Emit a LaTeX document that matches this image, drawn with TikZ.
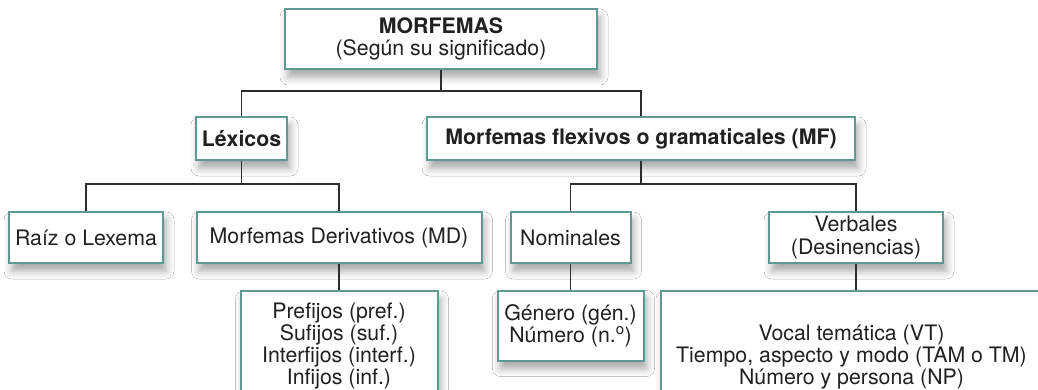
\documentclass[tikz,border=0pt]{standalone}
\usepackage{fontspec}
\setmainfont{TeX Gyre Heros}
\usepackage{tikz}
\usetikzlibrary{shadows.blur}

\definecolor{borde}{RGB}{94,154,148}
\definecolor{linea}{RGB}{45,45,45}
\definecolor{texto}{RGB}{35,31,32}

\begin{document}
\begin{tikzpicture}[x=1pt, y=-1pt, thick]
        \tikzstyle{every node}=[font=\fontsize{21.3pt}{22.3pt}\selectfont, text=texto]
        \tikzstyle{caja}=[draw=borde, line width=2pt, fill=white, inner sep=0pt, align=center,
          blur shadow={shadow xshift=3pt, shadow yshift=-8pt, shadow blur radius=8pt, shadow opacity=35}]
        \tikzstyle{rama}=[draw=linea, line width=1.3pt]
        \useasboundingbox (0,0) rectangle (1038,390);
        \clip (0,0) rectangle (1038,390);
        \fill[white] (0,0) rectangle (1038,390);
        % nivel 1
        \node [caja, minimum width=312pt, minimum height=60pt] (morf) at (441, 39) {\textbf{MORFEMAS}\\(Según su significado)};
        % nivel 2
        \node [caja, minimum width=91pt, minimum height=43pt] (lex) at (241.5, 138.5) {\textbf{Léxicos}};
        \node [caja, minimum width=428pt, minimum height=43pt] (mf) at (641, 138.5) {\textbf{Morfemas flexivos o gramaticales (MF)}};
        % nivel 3
        \node [caja, minimum width=154pt, minimum height=51pt] (raiz) at (86, 237.5) {Raíz o Lexema};
        \node [caja, minimum width=285pt, minimum height=51pt] (md) at (339, 237.5) {Morfemas Derivativos (MD)};
        \node [caja, minimum width=120pt, minimum height=51pt] (nom) at (570.5, 237.5) {Nominales};
        \node [caja, minimum width=174pt, minimum height=51pt] (verb) at (856, 237.5) {Verbales\\(Desinencias)};
        % nivel 4
        \node [caja, minimum width=197pt, minimum height=110pt] (pref) at (339, 346) {Prefijos (pref.)\\Sufijos (suf.)\\Interfijos (interf.)\\Infijos (inf.)};
        \node [caja, minimum width=146pt, minimum height=70pt] (gen) at (570.5, 325.5) {Género (gén.)\\Número (n.\textsuperscript{o})};
        \node [caja, minimum width=381pt, minimum height=132pt] (voc) at (851.5, 357) {Vocal temática (VT)\\Tiempo, aspecto y modo (TAM o TM)\\Número y persona (NP)};
        % ramas
        \coordinate (j1) at (441, 91);
        \coordinate (j2) at (241.5, 184);
        \coordinate (j3) at (641, 184);
        \draw [rama] (morf.south) -- (j1);
        \draw [rama] (lex.north) |- (j1) -| (mf.north);
        \draw [rama] (lex.south) -- (j2);
        \draw [rama] (raiz.north) |- (j2) -| (md.north);
        \draw [rama] (mf.south) -- (j3);
        \draw [rama] (nom.north) |- (j3) -| (verb.north);
        \draw [rama] (md.south) -- (pref.north);
        \draw [rama] (nom.south) -- (gen.north);
        \draw [rama] (verb.south) -- (verb.south |- voc.north);
      \end{tikzpicture}
\end{document}
